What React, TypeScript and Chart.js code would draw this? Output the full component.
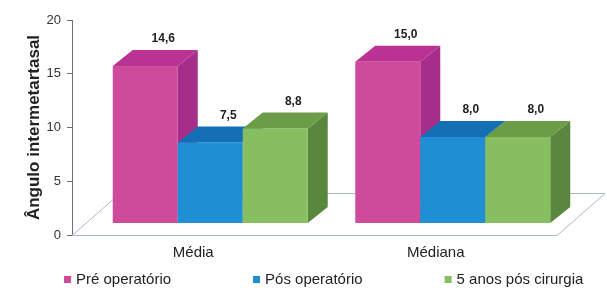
import React, { useEffect, useRef } from 'react';
import { Chart, registerables } from 'chart.js';

Chart.register(...registerables);

const categories = ['Média', 'Médiana'];
const seriesNames = ['Pré operatório', 'Pós operatório', '5 anos pós cirurgia'];
const preOp = [14.6, 15.0];
const posOp = [7.5, 8.0];
const fiveYears = [8.8, 8.0];
const yTicks = [0, 5, 10, 15, 20];

const FRONT = ['#CE4A9B', '#1F8ED3', '#87BE5F'];
const TOP = ['#BA3292', '#146FB4', '#6B9C48'];
const SIDE = ['#A62D89', '#176AA8', '#5A873E'];

const DEPTH_X = 20;
const DEPTH_Y = 16;
const LIFT = 12;
const SHIFT = 17;
const FLOOR_DX = 48;
const FLOOR_DY = 42;
const FONT = "'Liberation Sans', Arial, sans-serif";

const bars3d = {
  id: 'bars3d',
  beforeDatasetsDraw(chart: any) {
    const { ctx, chartArea } = chart;
    const y = chart.scales.y;
    const y0 = Math.round(y.getPixelForValue(0)) + 0.5;
    ctx.save();
    // floor
    ctx.beginPath();
    ctx.moveTo(chartArea.left, y0);
    ctx.lineTo(chartArea.right, y0);
    ctx.lineTo(chartArea.right + FLOOR_DX, y0 - FLOOR_DY);
    ctx.lineTo(chartArea.left + FLOOR_DX, y0 - FLOOR_DY);
    ctx.closePath();
    ctx.fillStyle = '#ffffff';
    ctx.fill();
    ctx.strokeStyle = '#A9B8CC';
    ctx.lineWidth = 1;
    ctx.stroke();

    const nCat = categories.length;
    const labels: any[] = [];
    for (let j = 0; j < nCat; j++) {
      chart.data.datasets.forEach((ds: any, i: number) => {
        const el = chart.getDatasetMeta(i).data[j];
        if (!el) return;
        const w = el.width;
        const left = el.x - w / 2 + SHIFT;
        const right = left + w;
        const top = el.y - LIFT;
        const bottom = y.getPixelForValue(0) - LIFT;
        // side
        ctx.beginPath();
        ctx.moveTo(right, bottom);
        ctx.lineTo(right + DEPTH_X, bottom - DEPTH_Y);
        ctx.lineTo(right + DEPTH_X, top - DEPTH_Y);
        ctx.lineTo(right, top);
        ctx.closePath();
        ctx.fillStyle = SIDE[i];
        ctx.fill();
        // top
        ctx.beginPath();
        ctx.moveTo(left, top);
        ctx.lineTo(left + DEPTH_X, top - DEPTH_Y);
        ctx.lineTo(right + DEPTH_X, top - DEPTH_Y);
        ctx.lineTo(right, top);
        ctx.closePath();
        ctx.fillStyle = TOP[i];
        ctx.fill();
        // front
        ctx.fillStyle = FRONT[i];
        ctx.fillRect(left, top, w, bottom - top);
        const v = ds.data[j];
        labels.push({ x: left + w / 2 + 18, y: top - DEPTH_Y - 11, t: v.toFixed(1).replace('.', ',') });
      });
    }
    ctx.fillStyle = '#222';
    ctx.font = `bold 12px ${FONT}`;
    ctx.textAlign = 'center';
    ctx.textBaseline = 'middle';
    labels.forEach((l) => ctx.fillText(l.t, l.x, l.y));
    ctx.restore();
    return false;
  },
  afterDraw(chart: any) {
    const { ctx } = chart;
    ctx.save();
    ctx.font = `15px ${FONT}`;
    ctx.textBaseline = 'middle';
    ctx.textAlign = 'left';
    let x = 64;
    const ly = 280;
    chart.data.datasets.forEach((ds: any, i: number) => {
      ctx.fillStyle = FRONT[i];
      ctx.fillRect(x, ly - 4, 7, 7);
      ctx.fillStyle = '#222';
      ctx.fillText(ds.label, x + 12, ly);
      x += 12 + ctx.measureText(ds.label).width + 82;
    });
    ctx.restore();
  },
};

export default function App() {
  const ref = useRef<HTMLCanvasElement | null>(null);
  useEffect(() => {
    document.body.style.margin = '0';
    if (!ref.current) return;
    const chart = new Chart(ref.current, {
      type: 'bar',
      data: {
        labels: categories,
        datasets: [
          { label: seriesNames[0], data: preOp, backgroundColor: FRONT[0] },
          { label: seriesNames[1], data: posOp, backgroundColor: FRONT[1] },
          { label: seriesNames[2], data: fiveYears, backgroundColor: FRONT[2] },
        ],
      },
      options: {
        responsive: false,
        animation: false,
        events: [],
        datasets: { bar: { categoryPercentage: 0.804, barPercentage: 1 } },
        layout: { padding: { top: 20, right: 50, bottom: 19, left: 0 } },
        plugins: { legend: { display: false }, tooltip: { enabled: false } },
        scales: {
          x: {
            type: 'category',
            grid: { display: false, drawTicks: false },
            border: { display: false },
            ticks: { font: { family: FONT, size: 15 }, color: '#222', padding: 9 },
          },
          y: {
            min: 0,
            max: 20,
            afterFit: (s: any) => { s.width = 72; },
            afterBuildTicks: (s: any) => { s.ticks = yTicks.map((v) => ({ value: v })); },
            grid: { drawOnChartArea: false, drawTicks: true, tickLength: 5, color: '#6f6f6f' },
            border: { display: true, color: '#6f6f6f', width: 1 },
            ticks: { font: { family: FONT, size: 13 }, color: '#333', padding: 6 },
            title: {
              display: true,
              text: 'Ângulo intermetartasal',
              font: { family: FONT, size: 17, weight: 'bold', lineHeight: 1.2 },
              color: '#222',
              padding: { top: 24, bottom: 0 },
            },
          },
        },
      },
      plugins: [bars3d],
    });
    return () => chart.destroy();
  }, []);
  return (
    <div style={{ width: 607, height: 290 }}>
      <canvas ref={ref} width={607} height={290} />
    </div>
  );
}
